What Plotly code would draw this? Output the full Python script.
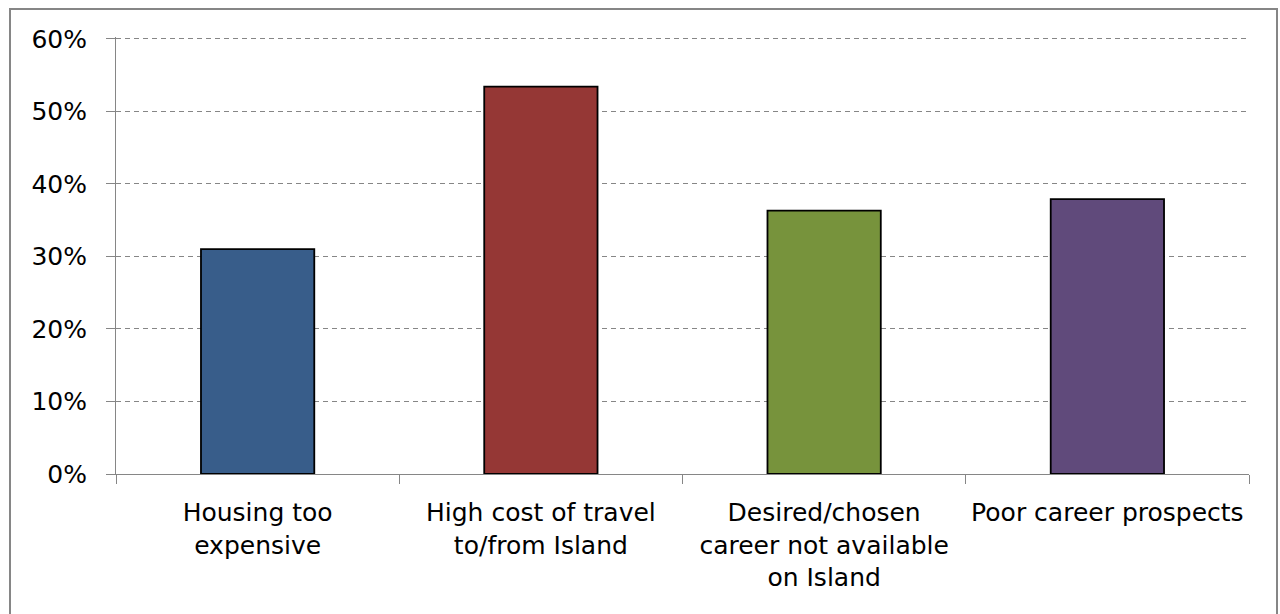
import plotly.graph_objects as go

# Reasons given, share of respondents
categories = [
    "Housing too<br>expensive",
    "High cost of travel<br>to/from Island",
    "Desired/chosen<br>career not available<br>on Island",
    "Poor career prospects",
]
shares = [0.310, 0.534, 0.363, 0.379]
bar_colors = ["#385D8A", "#953735", "#77933C", "#604A7B"]
y_ticks = [0, 0.1, 0.2, 0.3, 0.4, 0.5, 0.6]
y_tick_labels = ["0%", "10%", "20%", "30%", "40%", "50%", "60%"]

W, H = 1280, 614
ML, MR, MT, MB = 116, 31, 37, 140
pw = W - ML - MR
ph = H - MT - MB

fig = go.Figure(
    go.Bar(
        x=categories,
        y=shares,
        width=0.4,
        marker=dict(color=bar_colors, line=dict(color="#000000", width=1.8)),
        hoverinfo="skip",
    )
)

axis_grey = "#868686"
font = dict(family="DejaVu Sans", size=25, color="#000000")

fig.update_layout(
    width=W,
    height=H,
    margin=dict(l=ML, r=MR, t=MT, b=MB),
    paper_bgcolor="#ffffff",
    plot_bgcolor="#ffffff",
    showlegend=False,
    font=font,
    xaxis=dict(
        showline=True,
        linecolor=axis_grey,
        linewidth=1,
        ticks="outside",
        tickson="boundaries",
        ticklen=9,
        tickcolor=axis_grey,
        showgrid=False,
        tickfont=font,
        tickangle=0,
        automargin=False,
        ticklabelstandoff=16,
    ),
    yaxis=dict(
        range=[0, 0.6025],
        tickvals=y_ticks,
        ticktext=y_tick_labels,
        showline=True,
        linecolor=axis_grey,
        linewidth=1,
        ticks="outside",
        ticklen=9,
        tickcolor=axis_grey,
        showgrid=True,
        gridcolor=axis_grey,
        gridwidth=1,
        griddash="5px,4px",
        zeroline=False,
        tickfont=font,
        automargin=False,
        ticklabelstandoff=14,
    ),
)

# Outer chart frame
fig.add_shape(
    type="rect",
    xref="paper",
    yref="paper",
    x0=(10 - ML) / pw,
    x1=(1277 - ML) / pw,
    y0=(MT + ph - 640) / ph,
    y1=(MT + ph - 9) / ph,
    line=dict(color=axis_grey, width=2),
    fillcolor="rgba(0,0,0,0)",
    layer="below",
)

fig.write_html("out.html")
